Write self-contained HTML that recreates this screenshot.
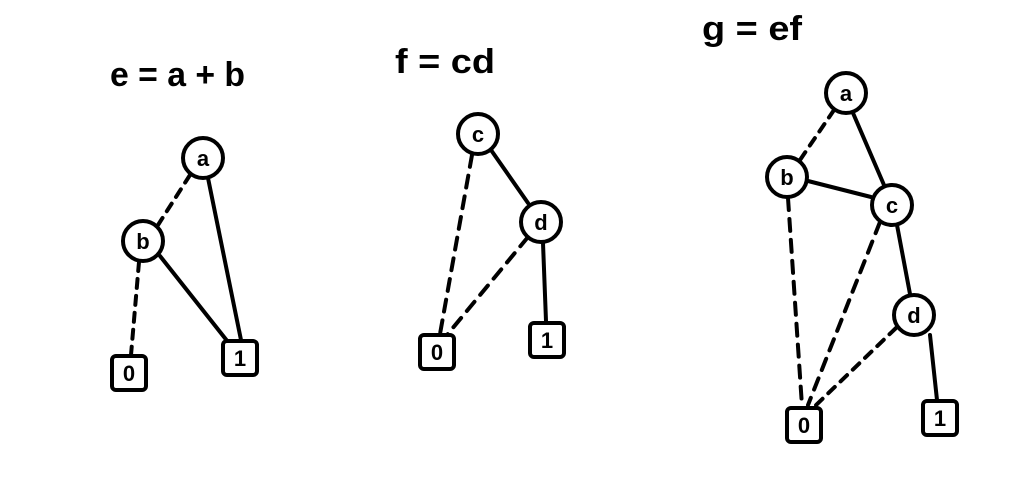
<!DOCTYPE html>
<html><head><meta charset="utf-8"><style>
html,body{margin:0;padding:0;background:#fff;}
svg{display:block;}
text{font-family:"Liberation Sans",sans-serif;font-weight:bold;fill:#000;}
</style></head><body>
<svg width="1024" height="488" viewBox="0 0 1024 488" xmlns="http://www.w3.org/2000/svg">
<g stroke="#000" stroke-width="4" stroke-linecap="round" fill="none">
<!-- diagram 1 -->
<line x1="190" y1="175" x2="158" y2="225" stroke-dasharray="9,8"/>
<line x1="208" y1="178" x2="241" y2="340"/>
<line x1="160" y1="256" x2="228" y2="342"/>
<line x1="139" y1="262" x2="131" y2="355" stroke-dasharray="9,8"/>
<!-- diagram 2 -->
<line x1="491" y1="150" x2="528" y2="203"/>
<line x1="472" y1="155" x2="440" y2="334" stroke-dasharray="12,9"/>
<line x1="528" y1="237" x2="447" y2="335" stroke-dasharray="12,9"/>
<line x1="543" y1="243" x2="546" y2="321"/>
<!-- diagram 3 -->
<line x1="834" y1="110" x2="800" y2="160" stroke-dasharray="9,8"/>
<line x1="853" y1="113" x2="884" y2="185"/>
<line x1="808" y1="181" x2="871" y2="197"/>
<line x1="897" y1="225" x2="910" y2="294"/>
<line x1="930" y1="335" x2="937" y2="400"/>
<line x1="788" y1="198" x2="802" y2="406" stroke-dasharray="12,9"/>
<line x1="880" y1="222" x2="808" y2="405" stroke-dasharray="12,9"/>
<line x1="896" y1="328" x2="814" y2="407" stroke-dasharray="9,8"/>
</g>
<g stroke="#000" stroke-width="4" fill="#fff">
<circle cx="203" cy="158" r="20"/>
<circle cx="143" cy="241" r="20"/>
<rect x="112" y="356" width="34" height="34" rx="4"/>
<rect x="223" y="341" width="34" height="34" rx="4"/>
<circle cx="478" cy="134" r="20"/>
<circle cx="541" cy="222" r="20"/>
<rect x="420" y="335" width="34" height="34" rx="4"/>
<rect x="530" y="323" width="34" height="34" rx="4"/>
<circle cx="846" cy="93" r="20"/>
<circle cx="787" cy="177" r="20"/>
<circle cx="892" cy="205" r="20"/>
<circle cx="914" cy="315" r="20"/>
<rect x="787" y="408" width="34" height="34" rx="4"/>
<rect x="923" y="401" width="34" height="34" rx="4"/>
</g>
<g font-size="22" text-anchor="middle">
<text x="203" y="166">a</text>
<text x="143" y="249">b</text>
<text x="129" y="381">0</text>
<text x="240" y="366">1</text>
<text x="478" y="142">c</text>
<text x="541" y="230">d</text>
<text x="437" y="360">0</text>
<text x="547" y="348">1</text>
<text x="846" y="101">a</text>
<text x="787" y="185">b</text>
<text x="892" y="213">c</text>
<text x="914" y="323">d</text>
<text x="804" y="433">0</text>
<text x="940" y="426">1</text>
</g>
<g font-size="34">
<text x="110" y="86" textLength="135" lengthAdjust="spacingAndGlyphs">e = a + b</text>
<text x="395" y="73" textLength="100" lengthAdjust="spacingAndGlyphs">f = cd</text>
<text x="702" y="40" textLength="100" lengthAdjust="spacingAndGlyphs">g = ef</text>
</g>
</svg>
</body></html>
